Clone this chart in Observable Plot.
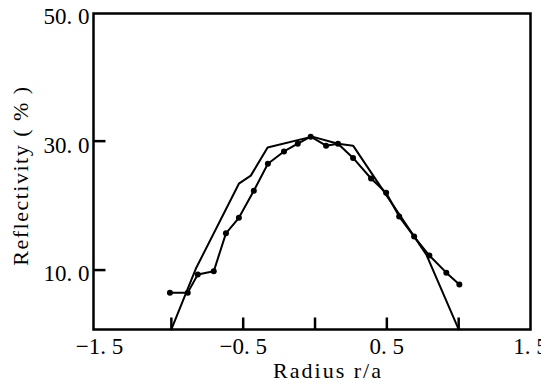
<!DOCTYPE html>
<html>
<head>
<meta charset="utf-8">
<script src="https://cdn.jsdelivr.net/npm/d3@7"></script>
<script src="https://cdn.jsdelivr.net/npm/@observablehq/plot@0.6"></script>
<style>
  html, body { margin: 0; padding: 0; background: #fff; }
  #chart svg { display: block; }
</style>
</head>
<body>
<div id="chart"></div>
<script>
// Series A: plain polyline (no markers)
const radiusA = [-1.0, -0.83, -0.53, -0.447, -0.33, -0.02, 0.16, 0.265, 0.405, 0.775, 1.0];
const reflA   = [0.8, 10.2, 23.4, 24.65, 29.0, 30.7, 29.6, 29.3, 24.65, 12.4, 0.8];

// Series B: polyline with dot markers
const radiusB = [-1.01, -0.886, -0.816, -0.705, -0.62, -0.53, -0.426, -0.328, -0.216, -0.12, -0.03, 0.077, 0.16, 0.265, 0.39, 0.495, 0.586, 0.69, 0.796, 0.914, 1.005];
const reflB   = [6.5, 6.5, 9.3, 9.8, 15.7, 18.1, 22.3, 26.5, 28.4, 29.6, 30.7, 29.3, 29.6, 27.4, 24.2, 22.0, 18.3, 15.2, 12.25, 9.6, 7.75];

// Axes
const xTickValues  = [-1, -0.5, 0, 0.5, 1];
const xLabelValues = [-1.5, -0.5, 0.5, 1.5];
const xLabelTexts  = ["\u22121. 5", "\u22120. 5", "0. 5", "1. 5"];
const yTickValues  = [10, 30];
const yLabelValues = [10, 30, 50];
const yLabelTexts  = ["10. 0", "30. 0", "50. 0"];
const xTitle = "Radius r/a";
const yTitle = "Reflectivity ( % )";

const xDomain = [-1.542, 1.5];
const yDomain = [0.78, 49.8];

const W = 541, H = 380, mL = 93, mR = 11, mT = 13, mB = 51;
const tickPx = 12;
const xPerPx = (xDomain[1] - xDomain[0]) / (W - mL - mR);
const yPerPx = (yDomain[1] - yDomain[0]) / (H - mT - mB);

const seriesA = radiusA.map((r, i) => ({r, v: reflA[i]}));
const seriesB = radiusB.map((r, i) => ({r, v: reflB[i]}));
const xLabels = xLabelValues.map((v, i) => ({v, t: xLabelTexts[i]}));
const yLabels = yLabelValues.map((v, i) => ({v, t: yLabelTexts[i]}));
const xTicks = xTickValues.map(v => ({x: v, a: yDomain[0], b: yDomain[0] + tickPx * yPerPx}));
const yTicks = yTickValues.map(v => ({y: v, a: xDomain[0], b: xDomain[0] + tickPx * xPerPx}));

const serif = "'Liberation Serif', 'Times New Roman', serif";

const chart = Plot.plot({
  width: W,
  height: H,
  marginLeft: mL,
  marginRight: mR,
  marginTop: mT,
  marginBottom: mB,
  style: {background: "#fff", color: "#000", overflow: "visible"},
  x: {domain: xDomain, axis: null},
  y: {domain: yDomain, axis: null},
  marks: [
    Plot.frame({stroke: "#000", strokeWidth: 2.5}),
    Plot.line(seriesA, {x: "r", y: "v", stroke: "#000", strokeWidth: 2}),
    Plot.line(seriesB, {x: "r", y: "v", stroke: "#000", strokeWidth: 2}),
    Plot.dot(seriesB, {x: "r", y: "v", r: 3, fill: "#000", stroke: "none"}),
    Plot.link(xTicks, {x1: "x", x2: "x", y1: "a", y2: "b", stroke: "#000", strokeWidth: 2.5}),
    Plot.link(yTicks, {y1: "y", y2: "y", x1: "a", x2: "b", stroke: "#000", strokeWidth: 2.5}),
    Plot.text(xLabels, {x: "v", text: "t", frameAnchor: "bottom", dy: 17, lineAnchor: "middle",
      fontSize: 23, fontFamily: serif, fill: "#000"}),
    Plot.text(yLabels, {y: "v", text: "t", frameAnchor: "left", dx: -4, dy: 4, textAnchor: "end",
      fontSize: 23, fontFamily: serif, fill: "#000"}),
    Plot.text([xTitle], {frameAnchor: "bottom", dx: 16, dy: 41, lineAnchor: "middle", textAnchor: "middle",
      fontSize: 22, fontFamily: serif, fill: "#000"}),
    Plot.text([yTitle], {frameAnchor: "left", dx: -73, dy: 4, rotate: -90, lineAnchor: "middle", textAnchor: "middle",
      fontSize: 22, fontFamily: serif, fill: "#000"})
  ]
});
document.getElementById("chart").appendChild(chart);
chart.querySelectorAll("text").forEach(t => {
  if (t.textContent === xTitle) t.setAttribute("letter-spacing", "2");
  if (t.textContent === yTitle) t.setAttribute("letter-spacing", "1.5");
});
</script>
</body>
</html>
